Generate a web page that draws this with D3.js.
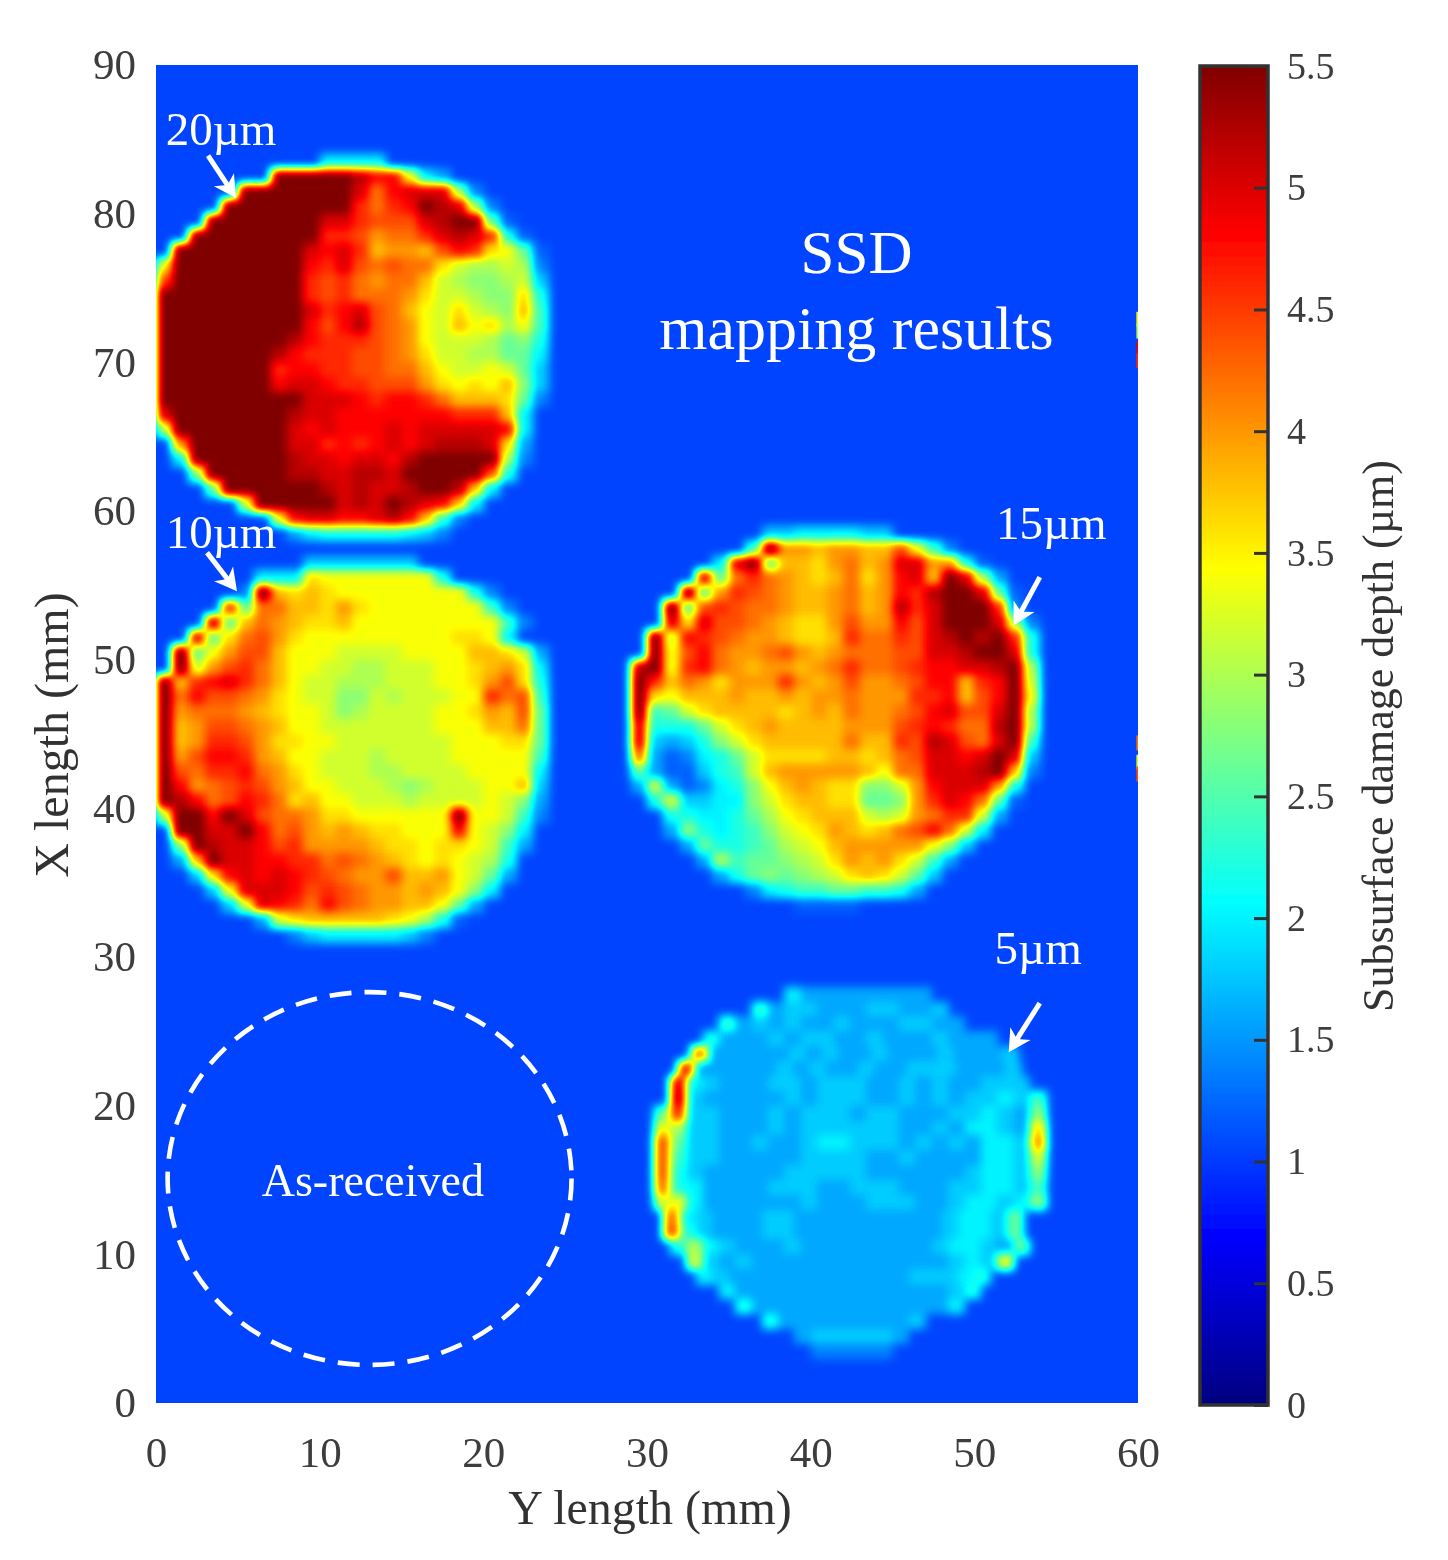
<!DOCTYPE html>
<html><head><meta charset="utf-8">
<script src="https://cdn.jsdelivr.net/npm/d3@7"></script>
<style>
html,body{margin:0;padding:0;background:#fff}
text{font-family:"Liberation Serif",serif}
</style></head><body><div id="chart"></div>
<script>
// Value code: '.'/absent = background level, a..v = depth levels (µm)
const levelKeys = "abcdefghijklmnopqrstuv";
const levelValues = [1.2,1.4,1.6,1.8,2.0,2.2,2.4,2.6,2.8,3.0,3.2,3.4,3.6,3.8,4.0,4.2,4.4,4.6,4.8,5.0,5.2,5.5];
const backgroundDepth = 1.05;

// Each row: [upper X length of the 1 mm row, first Y position, depth codes]
const disc20um = [
[84,10,"eeee"],[83,7,"vvvvvusslec"],[82,5,"vvvvvvvtpstttjb"],[81,4,"vvvvvvvvrprsvutjb"],
[80,3,"vvvvvvvttrqqqtuvvha"],[79,2,"vvvvvvvvrrqopprtutrfa"],[78,1,"vvvvvvvvtstrnoonqsrmlha"],
[77,0,"lvvvvvvvvsrtqpqppmkjjkjb"],[76,0,"qvvvvvvvvrqrpoppnkjiijkd"],[75,0,"vvvvvvvvvrqrpppomkkjiimf"],
[74,0,"vvvvvvvvvtrstqpnlkmkjing"],[73,0,"vvvvvvvvvsqsuqpolknlmjlg"],[72,0,"vvvvvvvvusrrrqpolkkkjhif"],
[71,0,"vvvvvvvusrrrqqpomkkjjhhe"],[70,0,"vvvvvvvrssrrqqppnlkklkhd"],[69,0,"vvvvvvvsttsrrqqqomlmlnid"],
[68,0,"vvvvvvvvvtttsrssrpnnnmhb"],[67,0,"tvvvvvvvuttsssssssrrrne"],[66,0,"jvvvvvvvtstsssts"+"ttttt"+"se"],
[65,1,"ovvvvvvttrsrststuuutmc"],[64,1,"evvvvvvuttsttsuvvvvvjb"],[63,2,"ivvvvvuuttuutvvvvvqf"],
[62,3,"hvvvvvvututtuvvune"],[61,5,"kvvvvvtutvutsne"],[60,7,"lsttsstusngb"],[59,8,"cefffffedb"]
];
const disc10um = [
[57,9,"ddddddd"],[56,6,"eeemlllllllf"],[55,5,"bvnmnmllllllllfb"],[54,4,"rhppnnmomlllllllgb"],
[53,3,"uhnponmmnlllllllllgb"],[52,2,"thmpqomlllllllllmmle"],[51,1,"vhloqqnlllkkkkllllnnmkc"],
[50,1,"vkoqrpnllkkjjkkkllmnome"],[49,0,"vnrstrpnlkkjjjkkkllmoqmf"],[48,0,"vpsqqpomlkkiikjkkkllrpqg"],
[47,0,"voppponmllkijkkkkllmonqh"],[46,0,"vnoqqponllkkkkkkklllnnph"],[45,0,"vnorrqommllkkkkkkklllmmh"],
[44,0,"voqssronllkkkjkkkklllllg"],[43,0,"vqprrspomlkkkjjkkkklllle"],[42,0,"vsopqrqonllkkkjijkkkllnd"],
[41,0,"vuspqsrpmnllkkkjkkkklkic"],[40,0,"jvvsvtqppommllllllvllkgb"],[39,1,"vvttvspqononmmlllslkie"],
[38,1,"ivuttsqroooonmmlmmlkgc"],[37,1,"cnvttssrrpqponmlmlkjf"],[36,2,"dmststsrqpooqnnolkhc"],
[35,3,"dltttsqrqpoononlie"],[34,4,"dktsrpsqpoonnlhc"],[33,6,"ckmnnnnnmljfa"],[32,8,"bdeeeeedb"]
];
const disc15um = [
[59,37,"ddeeeedd"],[58,36,"gvoonoonnqlgb"],[57,34,"etvhnnmopnottoofa"],[56,33,"thprponmnpmostnvtjc"],
[55,32,"vhorqponnopnosruvvtha"],[54,31,"vhqrqpponnopnourtvvvrb"],[53,31,"tmtqqponmmoqoosqtvvvtjb"],
[52,30,"vksrqpoonmmnrpprqtuvuvrf"],[51,30,"vlqspoopqonopppqqttuvvtf"],[50,29,"uvlrsponoonoprppqrssttuvj"],
[49,29,"vrnpomoooronoqoopqssnrsvk"],[48,29,"vmlnnnonnonoopooorrsnqsvl"],[47,29,"vghkmnnnnmnonpoopqstqqtvj"],
[46,29,"tfffhkmnonnnnoooqrsrppuvj"],[45,29,"tdcdfikmnnnnnpnnrqutqptvg"],[44,29,"pcabefhkmmmmnnmnpqttstvtd"],
[43,29,"hcaadfgknooooonlpptttuvnb"],[42,29,"ckcabefilnonmmiikostttof"],[41,30,"fkddeeikmnnmmhhiortspha"],
[40,31,"ffeefhjlmnnnkjkoprrkc"],[39,31,"cifefgiklmonmnpqspke"],[38,32,"chffghjklnooooolid"],
[37,33,"cjghhijkmonomkgc"],[36,34,"cfhihijkmnmkhd"],[35,36,"befgghhggfc"],[34,39,"aaaa"]
];
const disc5um = [
[28,38.4,"ecccccccc"],[27,36.4,"gcddcccddccd"],[26,34.4,"gcdcdccdcccddcc"],[25,33.4,"fcccdcddccdcccdccc"],
[24,32.7,"pcccccdcdccdcccdcccd"],[23,31.9,"scccccdcdccdccdddcccd"],[22,31.4,"tedcccddcdddccdcdccddd"],
[21,31.4,"udcccccdcdddccdcdcddedg"],[20,30.4,"hrddcccdcdddcddcccddedci"],[19,30.4,"ljddcccdcddddddccdceedcm"],
[18,30.4,"qhddccdccdeedddcdcdceedo"],[17,30.4,"qgddcccccddddccdcccceedk"],[16,30.4,"qfdcccccdddddccccccdeedi"],
[15,30.4,"pfeccccdddccdddcccddeedg"],[14,30.4,"kleccccccdcccdddccdeedei"],[13,31,"pedcccddcccccccccdeedh"],
[12,31,"qfdcccddcccccccccdeedh"],[11,31.4,"fjedcccdccccccccdeedch"],[10,32.4,"kdcdccccccccccccdedl"],
[9,33,"edcccccccccccdddef"],[8,34.4,"eccccccccccccc"+"df"],[7,35.4,"fcccccccccccce"],[6,37,"fccccccccd"],[5,39,"cdddddc"],[4,40,"bbbbb"]
];
const discs = [disc20um, disc10um, disc15um, disc5um];

// Thin artefacts on the right border of the map: [X length, depth]
const edgeMarks = [[73.4,3.4],[72.6,3.0],[71.4,4.9],[70.6,4.6],[44.9,4.2],[43.6,3.2],[42.8,4.4]];

const xTicks = [0,10,20,30,40,50,60];
const yTicks = [0,10,20,30,40,50,60,70,80,90];
const depthTicks = [0,0.5,1,1.5,2,2.5,3,3.5,4,4.5,5,5.5];

const sampleLabels = [
  {t:"20µm",x:3.97,y:84.6},{t:"10µm",x:3.97,y:57.5},{t:"15µm",x:54.7,y:58.1},{t:"5µm",x:53.9,y:29.5}
];
const titleLabels = [
  {t:"SSD",x:42.8,y:76,s:61},{t:"mapping results",x:42.8,y:70.9,s:62},{t:"As-received",x:13.25,y:13.9,s:46}
];
const arrows = [
  [[3.18,83.9],[4.89,81.05]],[[3.12,57.2],[4.95,54.6]],[[54.0,55.55],[52.4,52.3]],[[54.0,26.9],[52.1,23.6]]
];
const asReceived = {x:13.05,y:15.1,rx:12.34,ry:12.54};

const W=1448,H=1560;
const plot={l:156,r:1138,t:65,b:1403};
const bar={l:1200,r:1268,t:66,b:1405};
const x=d3.scaleLinear().domain([0,60]).range([plot.l,plot.r]);
const y=d3.scaleLinear().domain([0,90]).range([plot.b,plot.t]);
const cy=d3.scaleLinear().domain([0,5.5]).range([bar.b,bar.t]);

const jetStops=[0,.125,.375,.625,.875,1];
const jetColors=["#000080","#0000ff","#00ffff","#ffff00","#ff0000","#800000"];
const jet=d3.scaleLinear().domain(jetStops).range(jetColors).interpolate(d3.interpolateRgb.gamma(1));
const gray=d3.scaleLinear().domain([0,5.5]).range([0,255]);
const depthOf=c=>levelValues[levelKeys.indexOf(c)];

const cells=[];
discs.forEach(d=>d.forEach(([top,col,codes])=>{
  codes.split("").forEach((c,i)=>{ cells.push({x:col+i,top,v:depthOf(c)}); });
}));

const svg=d3.select("#chart").append("svg").attr("width",W).attr("height",H).style("display","block");
const defs=svg.append("defs");
defs.append("clipPath").attr("id","plotClip").append("rect")
  .attr("x",plot.l).attr("y",plot.t).attr("width",plot.r-plot.l).attr("height",plot.b-plot.t);

// blur the depth field, then run it through the jet map
const f=defs.append("filter").attr("id","jetField").attr("filterUnits","userSpaceOnUse")
  .attr("x",plot.l-40).attr("y",plot.t-40).attr("width",plot.r-plot.l+80).attr("height",plot.b-plot.t+80)
  .attr("color-interpolation-filters","sRGB");
f.append("feGaussianBlur").attr("stdDeviation",4.6);
const table=d3.range(41).map(i=>d3.rgb(jet(i/40)));
const ct=f.append("feComponentTransfer");
[["feFuncR","r"],["feFuncG","g"],["feFuncB","b"]].forEach(([n,k])=>{
  ct.append(n).attr("type","table").attr("tableValues",table.map(c=>(c[k]/255).toFixed(4)).join(" "));
});
defs.append("filter").attr("id","soft").attr("x","-10%").attr("y","-10%").attr("width","120%").attr("height","120%")
  .append("feGaussianBlur").attr("stdDeviation",0.55);

const grayFill=v=>{const g=Math.round(gray(v));return d3.rgb(g,g,g).formatHex();};

const clipG=svg.append("g").attr("clip-path","url(#plotClip)");
const field=clipG.append("g").attr("filter","url(#jetField)").attr("shape-rendering","crispEdges");
field.append("rect").attr("x",x(-2)).attr("y",y(92)).attr("width",x(62)-x(-2)).attr("height",y(-2)-y(92))
  .attr("fill",grayFill(backgroundDepth));
field.selectAll("rect.cell").data(cells).join("rect").attr("class","cell")
  .attr("x",d=>x(d.x)).attr("y",d=>y(d.top))
  .attr("width",d=>x(d.x+1)-x(d.x)+.5).attr("height",d=>y(d.top-1)-y(d.top)+.5)
  .attr("fill",d=>grayFill(d.v));
clipG.selectAll("rect.edge").data(edgeMarks).join("rect").attr("class","edge")
  .attr("x",x(59.9)).attr("width",x(60)-x(59.9)).attr("y",d=>y(d[0])).attr("height",y(0)-y(1))
  .attr("fill",d=>jet(d[1]/5.5));

// annotations
const ann=svg.append("g").attr("filter","url(#soft)");
ann.append("ellipse").attr("cx",x(asReceived.x)).attr("cy",y(asReceived.y))
  .attr("rx",x(asReceived.rx)-x(0)).attr("ry",y(0)-y(asReceived.ry))
  .attr("fill","none").attr("stroke","#fff").attr("stroke-width",4.6).attr("stroke-dasharray","22 13");
arrows.forEach(([a,b])=>{
  const x0=x(a[0]),y0=y(a[1]),x1=x(b[0]),y1=y(b[1]);
  const ang=Math.atan2(y1-y0,x1-x0),L=25,sp=.5;
  ann.append("line").attr("x1",x0).attr("y1",y0).attr("x2",x1-Math.cos(ang)*8).attr("y2",y1-Math.sin(ang)*8)
    .attr("stroke","#fff").attr("stroke-width",5);
  const p=[[x1,y1],[x1-L*Math.cos(ang-sp),y1-L*Math.sin(ang-sp)],
           [x1-L*.62*Math.cos(ang),y1-L*.62*Math.sin(ang)],[x1-L*Math.cos(ang+sp),y1-L*Math.sin(ang+sp)]];
  ann.append("polygon").attr("points",p.map(q=>q.join(",")).join(" ")).attr("fill","#fff");
});
ann.selectAll("text.s").data(sampleLabels).join("text").attr("class","s")
  .attr("x",d=>x(d.x)).attr("y",d=>y(d.y)).attr("text-anchor","middle").attr("font-size",47).attr("fill","#fff").text(d=>d.t);
ann.selectAll("text.t").data(titleLabels).join("text").attr("class","t")
  .attr("x",d=>x(d.x)).attr("y",d=>y(d.y)).attr("text-anchor","middle").attr("font-size",d=>d.s).attr("fill","#fff").text(d=>d.t);

// axes
const axes=svg.append("g").attr("filter","url(#soft)");
const xAxis=axes.append("g").attr("transform",`translate(0,${plot.b})`)
  .call(d3.axisBottom(x).tickValues(xTicks).tickSize(0).tickPadding(33));
const yAxis=axes.append("g").attr("transform",`translate(${plot.l},0)`)
  .call(d3.axisLeft(y).tickValues(yTicks).tickSize(0).tickPadding(20));
[xAxis,yAxis].forEach(a=>{a.select(".domain").remove();
  a.selectAll("text").attr("font-size",43).attr("fill","#3c3c3c").attr("font-family","Liberation Serif");});
axes.append("text").attr("x",650).attr("y",1524).attr("text-anchor","middle").attr("font-size",48).attr("fill","#333").text("Y length (mm)");
axes.append("text").attr("transform","translate(68,735) rotate(-90)").attr("text-anchor","middle").attr("font-size",48).attr("fill","#333").text("X length (mm)");

// colour bar
const grad=defs.append("linearGradient").attr("id","jetBar").attr("x1",0).attr("y1",1).attr("x2",0).attr("y2",0);
jetStops.forEach((s,i)=>grad.append("stop").attr("offset",s).attr("stop-color",jetColors[i]));
const barG=svg.append("g").attr("filter","url(#soft)");
barG.append("rect").attr("x",bar.l).attr("y",cy(5.5)).attr("width",bar.r-bar.l).attr("height",cy(0)-cy(5.5))
  .attr("fill","url(#jetBar)").attr("stroke","#333").attr("stroke-width",3.5);
const barAxis=barG.append("g").attr("transform",`translate(${bar.r},0)`)
  .call(d3.axisRight(cy).tickValues(depthTicks).tickFormat(d=>d).tickSize(-14).tickPadding(19));
barAxis.select(".domain").remove();
barAxis.selectAll("line").attr("stroke","#333").attr("stroke-width",3);
barAxis.selectAll("text").attr("font-size",38).attr("fill","#3c3c3c").attr("font-family","Liberation Serif");
barG.append("text").attr("transform","translate(1393,736) rotate(-90)").attr("text-anchor","middle")
  .attr("font-size",44).attr("fill","#333").text("Subsurface damage depth (µm)");
</script></body></html>
